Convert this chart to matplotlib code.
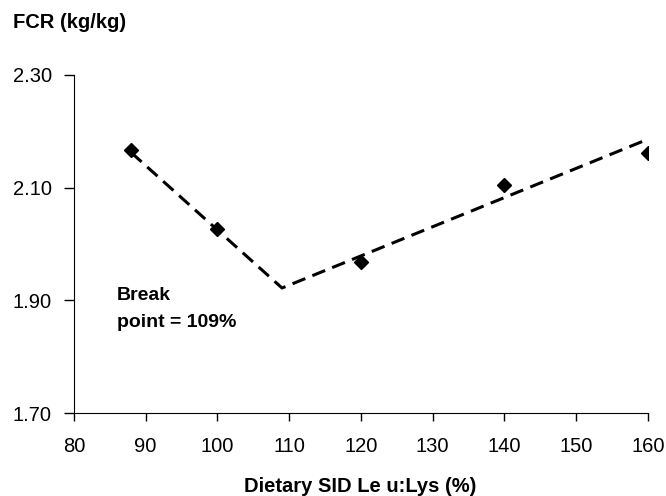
#!/usr/bin/env python3
"""FCR vs dietary SID Leu:Lys with broken-line fit."""
import matplotlib
matplotlib.use("Agg")
import matplotlib.pyplot as plt

# observed means
leu_lys = [88, 100, 120, 140, 160]
fcr = [2.167, 2.026, 1.968, 2.105, 2.161]

# broken-line fit (start, break point, end)
fit_x = [88, 109, 160]
fit_y = [2.162, 1.922, 2.186]

x_ticks = [80, 90, 100, 110, 120, 130, 140, 150, 160]
y_ticks = [1.70, 1.90, 2.10, 2.30]

plt.rcParams["font.family"] = ["Liberation Sans", "DejaVu Sans"]

fig = plt.figure(figsize=(6.66, 4.96), dpi=100)
ax = fig.add_axes([0.111, 0.167, 0.862, 0.682])

ax.plot(fit_x, fit_y, color="black", lw=2.2, linestyle=(0, (4.5, 2.5)))
ax.plot(leu_lys, fcr, "D", color="black", ms=7, ls="none")

ax.set_xlim(80, 160)
ax.set_ylim(1.70, 2.30)
ax.set_xticks(x_ticks)
ax.set_yticks(y_ticks)
ax.set_yticklabels([f"{v:.2f}" for v in y_ticks])
ax.tick_params(direction="out", width=1, labelsize=14.5)
ax.tick_params(axis="x", length=6, pad=11)
ax.tick_params(axis="y", length=7, pad=9)
for s in ("top", "right"):
    ax.spines[s].set_visible(False)

# break point note, one line at a time
ax.text(86, 1.901, "Break", fontsize=14, fontweight="bold", va="baseline", ha="left")
ax.text(86, 1.853, "point = 109%", fontsize=14, fontweight="bold", va="baseline", ha="left")

fig.text(0.019, 1 - 28 / 496, "FCR (kg/kg)", fontsize=14.5, fontweight="bold",
         va="baseline", ha="left")
fig.text(0.541, 1 - 492 / 496, "Dietary SID Le u:Lys (%)", fontsize=14.5, fontweight="bold",
         va="baseline", ha="center")

fig.savefig("out.png", dpi=100)
plt.close(fig)
